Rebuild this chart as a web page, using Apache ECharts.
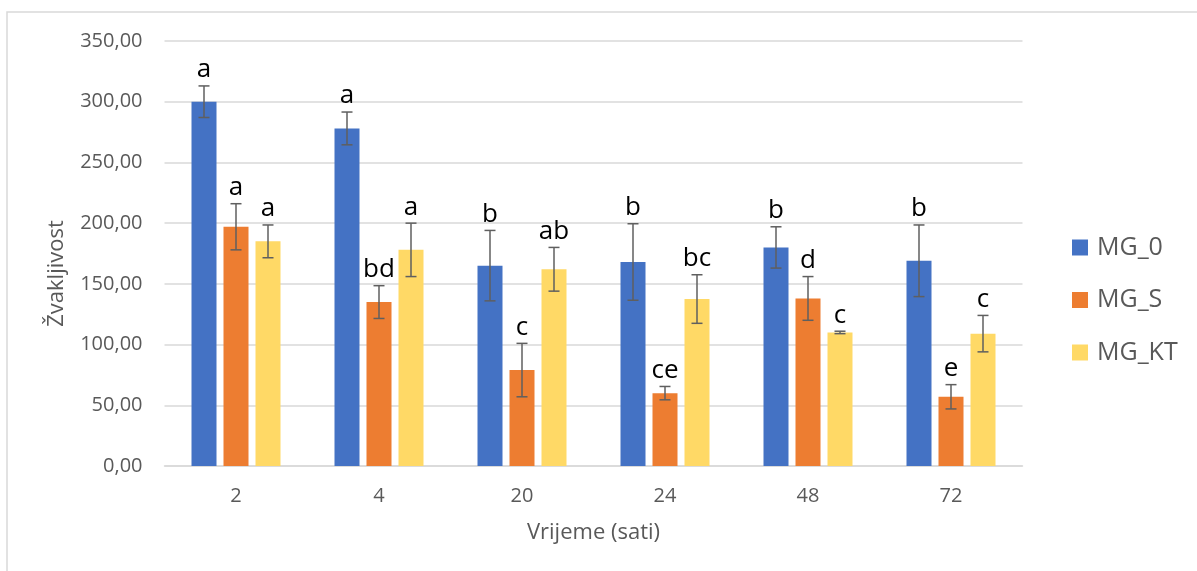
<!DOCTYPE html>
<html>
<head>
<meta charset="utf-8">
<script src="https://cdn.jsdelivr.net/npm/echarts@6/dist/echarts.min.js"></script>
<style>html,body{margin:0;padding:0;background:#fff}#c{width:1197px;height:571px}</style>
</head>
<body>
<div id="c"></div>
<script>
const categories = ['2', '4', '20', '24', '48', '72'];
const seriesNames = ['MG_0', 'MG_S', 'MG_KT'];
const mg0 = [300, 278, 165, 168, 180, 169];
const mgS = [197, 135, 79, 60, 138, 57];
const mgKT = [185, 178, 162, 137.5, 110, 109];
const mg0Err = [13, 13.5, 29, 31.5, 17, 29.5];
const mgSErr = [19, 13.5, 22, 5.5, 18, 10];
const mgKTErr = [13.5, 22, 18, 20, 1, 15];
const mg0Letters = ['a', 'a', 'b', 'b', 'b', 'b'];
const mgSLetters = ['a', 'bd', 'c', 'ce', 'd', 'e'];
const mgKTLetters = ['a', 'a', 'ab', 'bc', 'c', 'c'];
const yTicks = [0, 50, 100, 150, 200, 250, 300, 350];

const colors = ['#4472C4', '#ED7D31', '#FFD966'];
const FONT = 'Open Sans';
const values = [mg0, mgS, mgKT];
const errs = [mg0Err, mgSErr, mgKTErr];
const letters = [mg0Letters, mgSLetters, mgKTLetters];
const BAR_W = 25, BAR_STEP = 32;

const chart = echarts.init(document.getElementById('c'));

const barSeries = seriesNames.map((n, i) => ({
  name: n, type: 'bar', data: values[i], barWidth: BAR_W, barGap: '28%',
  itemStyle: { color: colors[i] }, z: 2
}));

const errSeries = seriesNames.map((n, i) => ({
  type: 'custom', name: n + '_err', silent: true, z: 5,
  data: values[i].map((v, k) => [k, v, errs[i][k]]),
  renderItem: function (params, api) {
    const x = api.value(0), v = api.value(1), e = api.value(2);
    const lbl = letters[i][params.dataIndex];
    const top = api.coord([x, v + e]);
    const bot = api.coord([x, v - e]);
    const cx = top[0] + (i - 1) * BAR_STEP;
    const cap = 5.5;
    const st = { stroke: '#5f5f5f', lineWidth: 1.5 };
    return {
      type: 'group', children: [
        { type: 'line', shape: { x1: cx, y1: top[1], x2: cx, y2: bot[1] }, style: st },
        { type: 'line', shape: { x1: cx - cap, y1: top[1], x2: cx + cap, y2: top[1] }, style: st },
        { type: 'line', shape: { x1: cx - cap, y1: bot[1], x2: cx + cap, y2: bot[1] }, style: st },
        { type: 'text', style: { text: lbl, x: cx, y: top[1] - 3, align: 'center', verticalAlign: 'bottom',
          fill: '#000', font: '26px "' + FONT + '"' } }
      ]
    };
  }
}));

chart.setOption({
  animation: false,
  backgroundColor: '#fff',
  graphic: [{ type: 'rect', shape: { x: 7, y: 12, width: 1300, height: 700 },
    style: { fill: 'none', stroke: '#d9d9d9', lineWidth: 1.5 }, silent: true }],
  grid: { left: 164.5, right: 174.5, top: 41, bottom: 105, containLabel: false },
  legend: {
    orient: 'vertical', left: 1067, top: 230, itemGap: 27.5, itemWidth: 16, itemHeight: 16,
    icon: 'rect', data: seriesNames,
    textStyle: { fontFamily: FONT, fontSize: 25, color: '#595959', padding: [0, 0, 0, 4] }
  },
  xAxis: {
    type: 'category', data: categories,
    name: 'Vrijeme (sati)', nameLocation: 'middle', nameGap: 56,
    nameTextStyle: { fontFamily: FONT, fontSize: 22, color: '#595959' },
    axisLine: { lineStyle: { color: '#d9d9d9', width: 1.5 } },
    axisTick: { show: false },
    axisLabel: { fontFamily: FONT, fontSize: 20, color: '#595959', margin: 20 }
  },
  yAxis: {
    type: 'value', min: 0, max: 350, interval: 50,
    name: 'Žvakljivost', nameLocation: 'middle', nameGap: 97,
    nameTextStyle: { fontFamily: FONT, fontSize: 22, color: '#595959', padding: [0, 40, 0, 0] },
    axisLine: { show: false }, axisTick: { show: false },
    splitLine: { lineStyle: { color: '#d9d9d9', width: 1.5 } },
    axisLabel: { fontFamily: FONT, fontSize: 20, color: '#595959', margin: 22,
      formatter: v => v.toFixed(2).replace('.', ',') }
  },
  series: [...barSeries, ...errSeries]
});
</script>
</body>
</html>
